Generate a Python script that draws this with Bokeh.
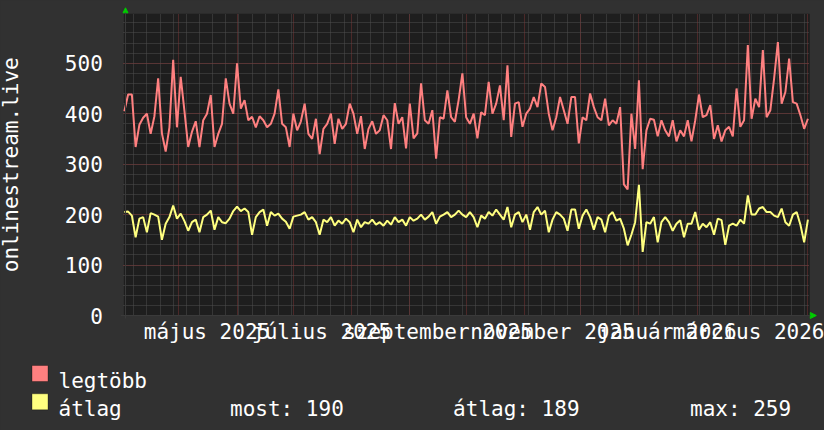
import math
import pandas as pd
from bokeh.plotting import figure
from bokeh.models import (FixedTicker, Grid, Range1d, BoxAnnotation, Arrow, NormalHead,
                          Label, GlobalInlineStyleSheet)
from bokeh.embed import file_html
from bokeh.resources import INLINE

# ---------------- data ----------------
start_date = "2025-04-02"
step_days = 2

legtobb = [
    405, 438, 438, 334, 378, 392, 400, 360, 395, 470,
    361, 325, 373, 507, 373, 473, 405, 334, 364, 385,
    334, 387, 400, 437, 334, 360, 380, 470, 420, 400,
    500, 410, 427, 387, 394, 373, 395, 387, 373, 380,
    400, 448, 380, 373, 334, 400, 367, 385, 420, 360,
    350, 390, 320, 370, 380, 400, 340, 390, 370, 380,
    420, 400, 360, 395, 330, 370, 385, 360, 367, 397,
    387, 330, 421, 380, 393, 331, 420, 351, 361, 460,
    387, 380, 407, 311, 393, 390, 446, 393, 384, 427,
    480, 393, 380, 400, 351, 403, 397, 463, 400, 420,
    456, 387, 496, 354, 420, 423, 374, 400, 410, 433,
    413, 460, 453, 400, 367, 393, 433, 407, 380, 433,
    433, 341, 393, 387, 440, 413, 393, 387, 430, 377,
    387, 380, 413, 260, 250, 400, 330, 466, 290, 367,
    390, 388, 355, 387, 367, 355, 387, 345, 367, 355,
    387, 345, 387, 438, 393, 397, 417, 350, 377, 345,
    367, 374, 355, 450, 374, 387, 536, 390, 430, 413,
    526, 393, 407, 470, 542, 420, 443, 509, 423, 420,
    397, 370, 390,
]

atlag = [
    205, 206, 198, 155, 192, 195, 165, 203, 200, 196,
    150, 182, 195, 218, 192, 202, 187, 168, 185, 190,
    165, 195, 200, 208, 170, 195, 185, 183, 192, 207,
    216, 207, 212, 205, 160, 195, 205, 210, 178, 205,
    198, 202, 192, 186, 172, 196, 198, 200, 205, 190,
    195, 185, 160, 190, 185, 195, 178, 188, 182, 192,
    185, 165, 190, 175, 185, 182, 190, 180, 185, 178,
    188, 180, 195, 185, 190, 178, 195, 188, 192, 200,
    190, 196, 205, 182, 196, 200, 205, 195, 200, 208,
    200, 195, 205, 195, 175, 198, 192, 205, 198, 210,
    200, 190, 215, 175, 200, 205, 185, 200, 170, 205,
    215, 200, 208, 165, 190, 205, 200, 192, 168, 210,
    210, 172, 198, 210, 195, 170, 195, 190, 165, 198,
    205, 188, 192, 172, 139, 160, 185, 259, 126, 185,
    182, 195, 145, 185, 195, 185, 168, 182, 189, 155,
    182, 182, 205, 170, 182, 175, 185, 160, 192, 189,
    140, 178, 182, 178, 190, 182, 238, 200, 200, 212,
    215, 205, 205, 198, 195, 212, 185, 178, 200, 205,
    180, 145, 190,
]

x_label_dates = ["2025-05-16", "2025-07-16", "2025-09-16",
                 "2025-11-16", "2026-01-16", "2026-03-16"]
x_labels = ["május 2025", "július 2025", "szeptember 2025",
            "november 2025", "január 2026", "március 2026"]
y_ticks = [0, 100, 200, 300, 400, 500]
y_title = "onlinestream.live"
series_names = ["legtöbb", "átlag"]
stats = ["most: 190", "átlag: 189", "max: 259"]

# ---------------- styling / layout ----------------
FONT = "DejaVu Sans Mono"
FS = "21px"
BG = "#313131"
CANVAS = "#1e1e1e"
RED = "#ff8080"
YELLOW = "#ffff80"
TXT = "#ffffff"
GREEN = "#00cc00"
AXISC = "#3a3a3a"
MAJOR = "#7a3434"
MINOR = "#4e4e4e"

W, H = 824, 430
# plot area in page pixels; the frame is the whole canvas
PL, PR, PT, PB = 123.3, 809.3, 13.3, 315.0
Y_TOP = 598


def ms(d):
    return int(pd.Timestamp(d).value // 10**6)


DAY = 86400000
plot_start = ms("2025-04-01") + int(0.7 * DAY)
plot_end = plot_start + int(365.3 * DAY)
ppx = (PR - PL) / (plot_end - plot_start)       # px per ms
ppy = (PB - PT) / Y_TOP                          # px per unit
x_range = Range1d(plot_start - PL / ppx, plot_end + (W - PR) / ppx)
y_range = Range1d(-(H - PB) / ppy, Y_TOP + PT / ppy)

dates = pd.date_range(start_date, periods=len(legtobb), freq=f"{step_days}D")

p = figure(width=W, height=H, x_axis_type="datetime",
           output_backend="svg", toolbar_location=None,
           x_range=x_range, y_range=y_range,
           min_border_left=0, min_border_right=0,
           min_border_top=0, min_border_bottom=0)
p.background_fill_color = BG
p.border_fill_color = BG
p.outline_line_color = None
p.stylesheets = [GlobalInlineStyleSheet(css=f"html, body {{ background: {BG}; }}")]
p.xgrid.visible = False
p.ygrid.visible = False

# dark canvas of the plot area
p.add_layout(BoxAnnotation(left=plot_start, right=plot_end, bottom=0, top=Y_TOP,
                           fill_color=CANVAS, fill_alpha=1, line_color=None,
                           level="image"))

week_ticks = [ms(d) for d in pd.date_range("2025-03-31", "2026-04-06", freq="W-MON")
              if plot_start <= ms(d) <= plot_end]
month_ticks = [ms(d) for d in pd.date_range("2025-04-01", "2026-05-01", freq="MS")
               if plot_start <= ms(d) <= plot_end]
xg = Grid(dimension=0, ticker=FixedTicker(ticks=month_ticks, minor_ticks=week_ticks),
          cross_bounds=(0, Y_TOP),
          grid_line_color=MAJOR, grid_line_dash="1 1", grid_line_width=1,
          minor_grid_line_color=MINOR, minor_grid_line_dash="1 1")
yg = Grid(dimension=1, ticker=FixedTicker(ticks=list(range(0, 600, 100)),
                                          minor_ticks=list(range(0, 600, 20))),
          cross_bounds=(plot_start, plot_end),
          grid_line_color=MAJOR, grid_line_dash="1 1", grid_line_width=1,
          minor_grid_line_color=MINOR, minor_grid_line_dash="1 1")
p.add_layout(xg)
p.add_layout(yg)

# series
p.line(dates, legtobb, line_color=RED, line_width=2)
p.line(dates, atlag, line_color=YELLOW, line_width=2)

# rrdtool-like axis lines with green arrow heads
x_ax = plot_start + (125 - PL) / ppx
p.add_layout(Arrow(x_start=plot_start - 3 / ppx, y_start=0, x_end=plot_end + 6.5 / ppx, y_end=0,
                   line_color=AXISC, line_width=1,
                   end=NormalHead(size=6, fill_color=GREEN, line_color=GREEN)))
p.add_layout(Arrow(x_start=x_ax, y_start=-3 / ppy, x_end=x_ax, y_end=Y_TOP + 6 / ppy,
                   line_color=AXISC, line_width=1,
                   end=NormalHead(size=5, fill_color=GREEN, line_color=GREEN)))

# axes, drawn at the edges of the plot area
xa = p.xaxis[0]
xa.fixed_location = 0
xa.ticker = FixedTicker(ticks=[ms(d) for d in x_label_dates])
xa.major_label_overrides = {ms(d): t for d, t in zip(x_label_dates, x_labels)}
xa.major_tick_line_color = None
xa.minor_tick_line_color = None
xa.axis_line_color = None
xa.major_label_standoff = -2
xa.major_label_text_font = FONT
xa.major_label_text_font_size = FS
xa.major_label_text_color = TXT

ya = p.yaxis[0]
ya.fixed_location = plot_start
ya.ticker = FixedTicker(ticks=y_ticks)
ya.major_tick_line_color = None
ya.minor_tick_line_color = None
ya.axis_line_color = None
ya.major_label_standoff = 15
ya.major_label_text_font = FONT
ya.major_label_text_font_size = FS
ya.major_label_text_color = TXT

# y title (screen units: from the canvas' bottom-left)
p.add_layout(Label(x=10, y=H - 164.3, x_units="screen", y_units="screen",
                   text=y_title, angle=math.pi / 2, text_align="center",
                   text_baseline="alphabetic", text_font=FONT, text_font_size=FS,
                   text_color=TXT))

# legend
sw_top = [365.0, 393.3]
for name, col, top in zip(series_names, [RED, YELLOW], sw_top):
    p.add_layout(BoxAnnotation(left=31.5, right=47.5, top=H - top, bottom=H - top - 16,
                               left_units="screen", right_units="screen",
                               top_units="screen", bottom_units="screen",
                               fill_color=col, fill_alpha=1,
                               line_color="#000000", line_width=1))
txt_x = [58, 58, 229.5, 452.6, 689.5]
txt_y = [380.7, 408.3, 408.3, 408.3, 408.3]
for tx, ty, t in zip(txt_x, txt_y, series_names + stats):
    p.add_layout(Label(x=tx, y=H - ty, x_units="screen", y_units="screen",
                       text=t, text_align="left", text_baseline="alphabetic",
                       text_font=FONT, text_font_size=FS, text_color=TXT))

open("out.html", "w").write(file_html(p, INLINE))
